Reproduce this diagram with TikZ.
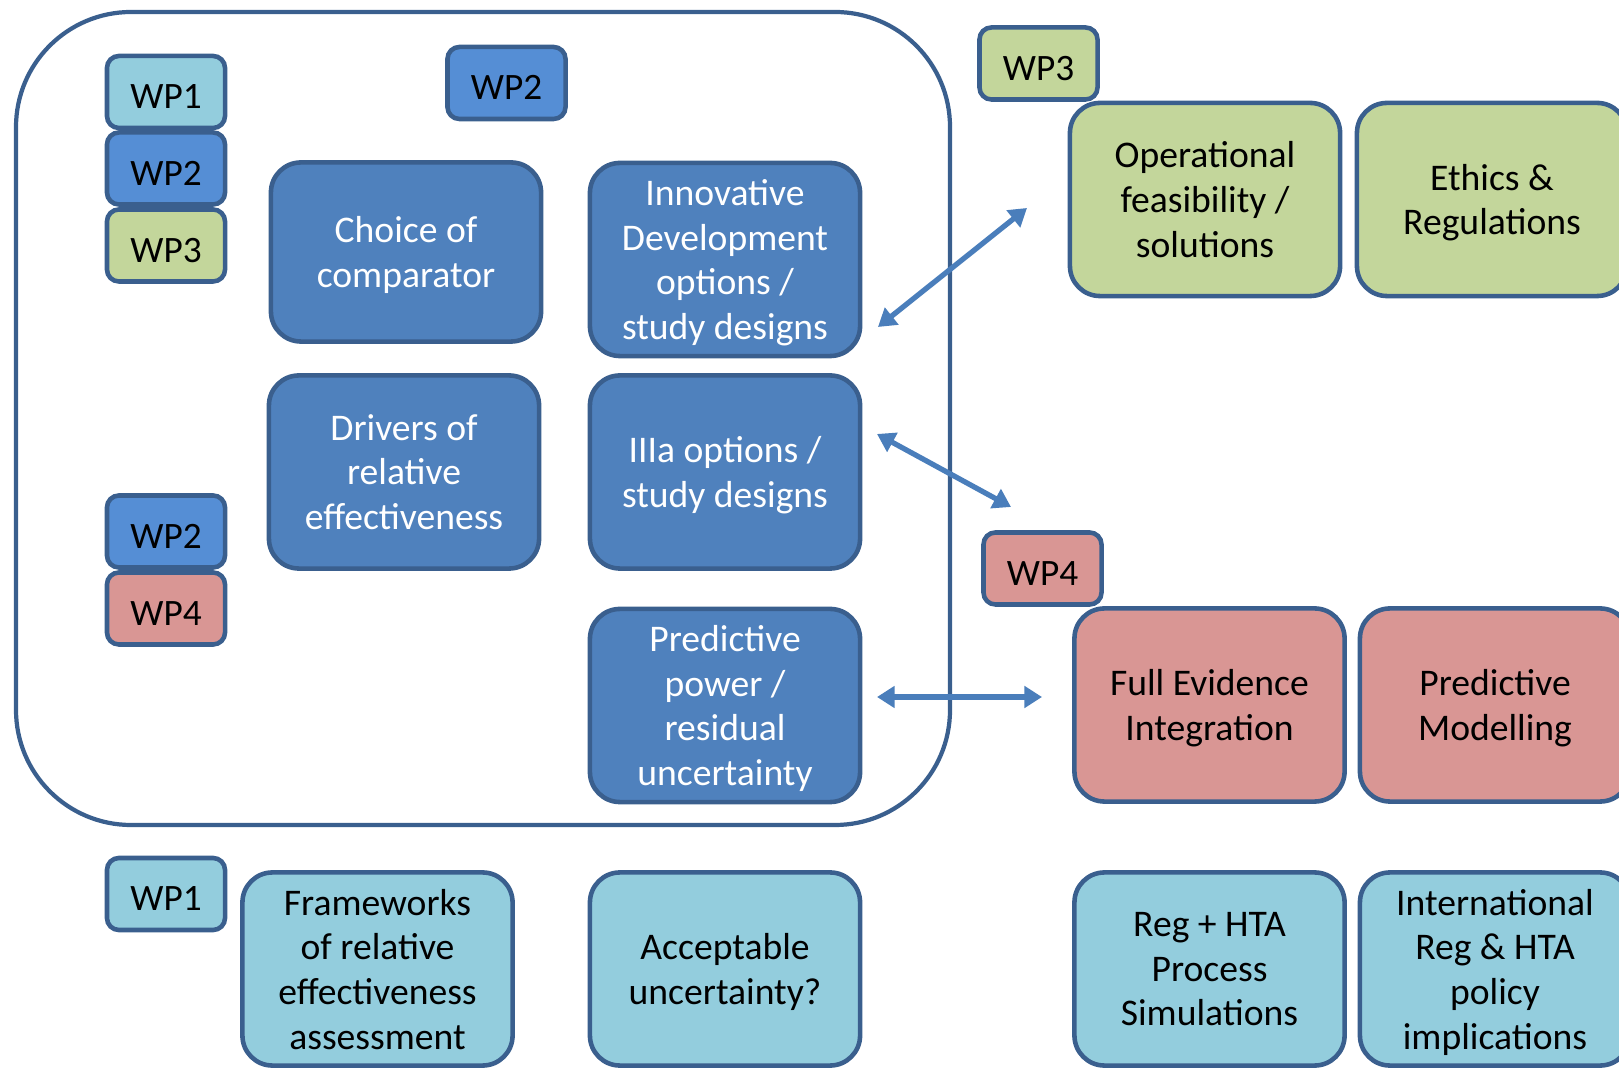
\documentclass[tikz,border=0pt]{standalone}
\usepackage{fontspec}
\setmainfont{Carlito}
\usetikzlibrary{arrows.meta}

\definecolor{rimblue}{HTML}{3A5F8E}
\definecolor{wpdark}{HTML}{4F81BD}
\definecolor{wptwo}{HTML}{558ED5}
\definecolor{wpone}{HTML}{93CDDD}
\definecolor{wpthree}{HTML}{C3D69B}
\definecolor{wpfour}{HTML}{D99694}
\definecolor{arrowblue}{HTML}{4A7EBB}

\tikzset{
	cell/.style={draw=rimblue, line width=1.3pt, rounded corners=0.3cm, minimum width=2.7cm, minimum height=1.93cm, align=center, text depth=-0.3pt, font=\fontsize{10.7}{12.7}\selectfont},
	tag/.style={draw=rimblue, line width=1.3pt, rounded corners=0.12cm, minimum width=1.18cm, minimum height=0.72cm, font=\fontsize{10.6}{12.7}\selectfont, execute at begin node={\rule{0pt}{9.6pt}}},
	link/.style={draw=arrowblue, line width=1.5pt, {Triangle[length=5pt,width=6pt]}-{Triangle[length=5pt,width=6pt]}},
}

\begin{document}
\begin{tikzpicture}[x=0.01cm, y=-0.01cm]
		\useasboundingbox (0,0) rectangle (1619,1068);
		
		%Frame round the WP2 block
		\draw[draw=rimblue, line width=1.2pt, rounded corners=1.15cm] (16,12) rectangle (950,825);
		
		%WP tags, left column
		\node[tag, fill=wpone] (T1) at (166,92) {WP1};
		\node[tag, fill=wptwo] (T2) at (166,168.5) {WP2};
		\node[tag, fill=wpthree] (T3) at (166,245.5) {WP3};
		\node[tag, fill=wptwo] (T4) at (166,531.5) {WP2};
		\node[tag, fill=wpfour] (T5) at (166,608.5) {WP4};
		\node[tag, fill=wpone] (T6) at (166,894) {WP1};
		
		%WP tags, top and right
		\node[tag, fill=wptwo] (T7) at (506.5,83) {WP2};
		\node[tag, fill=wpthree] (T8) at (1038.5,63.5) {WP3};
		\node[tag, fill=wpfour] (T9) at (1042.5,568.5) {WP4};
		
		%WP2 cells
		\node[cell, fill=wpdark, text=white, minimum height=1.79cm] (C1) at (406,252) {Choice of\\comparator};
		\node[cell, fill=wpdark, text=white] (C2) at (725,259.5) {Innovative\\Development\\options /\\study designs};
		\node[cell, fill=wpdark, text=white] (C3) at (404,472) {Drivers of\\relative\\effectiveness};
		\node[cell, fill=wpdark, text=white] (C4) at (725,472) {IIIa options /\\study designs};
		\node[cell, fill=wpdark, text=white] (C5) at (725,705.5) {Predictive\\power /\\residual\\uncertainty};
		
		%WP3 cells
		\node[cell, fill=wpthree] (C6) at (1205,199.5) {Operational\\feasibility /\\solutions};
		\node[cell, fill=wpthree] (C7) at (1492,199.5) {Ethics \&\\Regulations};
		
		%WP4 cells
		\node[cell, fill=wpfour] (C8) at (1209.5,705) {Full Evidence\\Integration};
		\node[cell, fill=wpfour] (C9) at (1495,705) {Predictive\\Modelling};
		
		%WP1 cells
		\node[cell, fill=wpone] (C10) at (377.5,969) {Frameworks\\of relative\\effectiveness\\assessment};
		\node[cell, fill=wpone] (C11) at (725,969) {Acceptable\\uncertainty?};
		\node[cell, fill=wpone] (C12) at (1209.5,969) {Reg + HTA\\Process\\Simulations};
		\node[cell, fill=wpone] (C13) at (1495,969) {International\\Reg \& HTA\\policy\\implications};
		
		%Arrow ends
		\coordinate (A1) at (878,327);
		\coordinate (B1) at (1027,208);
		\coordinate (A2) at (877,434);
		\coordinate (B2) at (1011,507);
		\coordinate (A3) at (877,697);
		\coordinate (B3) at (1042,697);
		
		\draw[link] (A1) -- (B1);
		\draw[link] (A2) -- (B2);
		\draw[link] (A3) -- (B3);
		
	\end{tikzpicture}
\end{document}
